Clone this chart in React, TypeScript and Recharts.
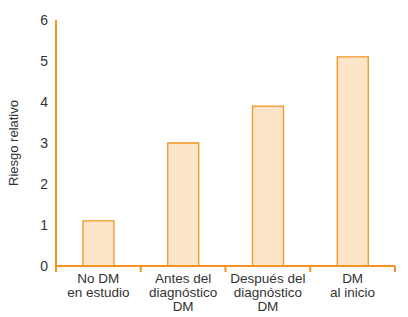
import React from 'react';
import { BarChart, Bar, XAxis, YAxis } from 'recharts';

const categories = ['No DM\nen estudio', 'Antes del\ndiagnóstico\nDM', 'Después del\ndiagnóstico\nDM', 'DM\nal inicio'];
const riesgo = [1.1, 3.0, 3.9, 5.1];
const yTicks = [0, 1, 2, 3, 4, 5, 6];

const data = categories.map((name, i) => ({ name, riesgo: riesgo[i] }));

const ORANGE = '#F39322';
const FILL = '#FDE5C9';
const TEXT = '#333333';
const FONT = '"Liberation Sans", Arial, sans-serif';

const CatTick = (props: any) => {
  const { x, y, payload, width, visibleTicksCount, index } = props;
  const half = width / visibleTicksCount / 2;
  const lines = String(payload.value).split('\n');
  return (
    <g>
      <line x1={x - half} x2={x - half} y1={y} y2={y + 6} stroke={ORANGE} strokeWidth={2} />
      {index === visibleTicksCount - 1 && (
        <line x1={x + half} x2={x + half} y1={y} y2={y + 6} stroke={ORANGE} strokeWidth={2} />
      )}
      <text x={x} y={y + 17} textAnchor="middle" fill={TEXT} fontSize={13.5} fontFamily={FONT}>
        {lines.map((l, i) => (
          <tspan key={i} x={x} dy={i === 0 ? 0 : 14}>{l}</tspan>
        ))}
      </text>
    </g>
  );
};

export default function App() {
  return (
    <div style={{ position: 'absolute', left: 0, top: 0, width: 408, height: 317, background: '#fff' }}>
      <BarChart width={408} height={317} data={data} margin={{ top: 20, right: 13, bottom: 0, left: 0 }}>
        <XAxis
          dataKey="name"
          type="category"
          height={51}
          axisLine={{ stroke: ORANGE, strokeWidth: 2 }}
          tickLine={false}
          tickSize={0}
          tickMargin={0}
          tick={<CatTick />}
          interval={0}
        />
        <YAxis
          width={56}
          domain={[0, 6]}
          ticks={yTicks}
          tickLine={false}
          axisLine={{ stroke: ORANGE, strokeWidth: 2 }}
          tick={{ fill: TEXT, fontSize: 14, fontFamily: FONT }}
          label={{ value: 'Riesgo relativo', angle: -90, position: 'insideLeft', dx: 8, fill: TEXT, fontSize: 13, fontFamily: FONT, style: { textAnchor: 'middle' } }}
        />
        <Bar dataKey="riesgo" fill={FILL} stroke={ORANGE} strokeWidth={1.3} barSize={31} isAnimationActive={false} />
      </BarChart>
    </div>
  );
}
